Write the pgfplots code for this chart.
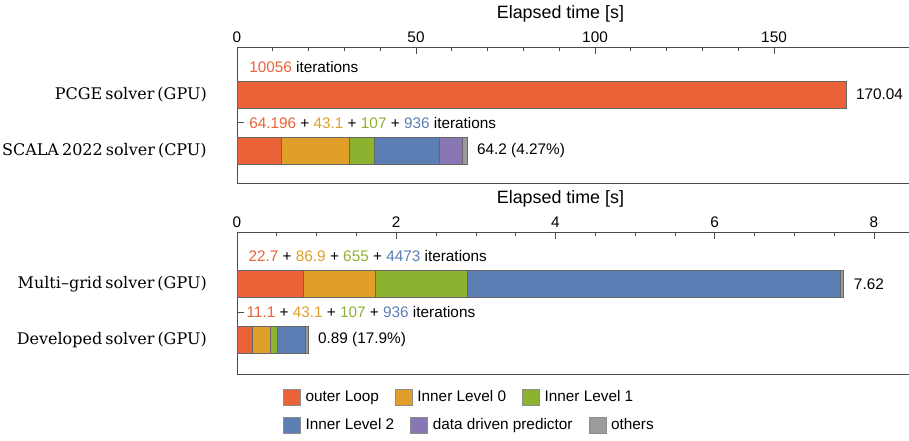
\documentclass[border=0pt]{standalone}
\usepackage{fontspec}
\usepackage{pgfplots}
\pgfplotsset{compat=1.18}
\newfontfamily\sans{Liberation Sans}
\newfontfamily\serifcat[Ligatures=TeX, WordSpace=0.6]{DejaVu Serif}
\definecolor{cOut}{HTML}{EA6338}
\definecolor{cI0}{HTML}{E09F29}
\definecolor{cI1}{HTML}{8DB22F}
\definecolor{cI2}{HTML}{5B7FB4}
\definecolor{cPr}{HTML}{8977B4}
\definecolor{cOt}{HTML}{9B9B9B}
\newcommand{\fs}{\sans\fontsize{11.5}{13}\selectfont}
\newcommand{\fc}{\serifcat\fontsize{12}{14}\selectfont}
\pgfplotsset{
 common/.style={
  scale only axis, width=504pt, xmin=0,
  xbar stacked, bar width=0.48,
  axis x line*=box, axis y line*=left,
  axis line style={-, black!70, line width=0.6pt},
  xtick pos=right, xticklabel pos=right, tick align=inside,
  major tick length=5.25pt, minor tick length=3pt,
  tick style={black!70, line width=0.5pt},
  ytick={1,1.5,2}, yticklabels={},
  ticklabel style={font=\fs},
  /pgf/number format/assume math mode=true,
  xlabel={Elapsed time [s]},
  xlabel style={font=\sans\fontsize{13.4}{15}\selectfont, xshift=-9.4pt},
  clip=false,
  legend columns=-1,
  legend image code/.code={\draw[##1] (0pt,-6pt) rectangle (12.75pt,6pt); \path (16.5pt,0pt);},
  legend style={draw=none, fill=none, inner sep=0pt, outer sep=0pt, font=\sans\fontsize{11.5}{13}\selectfont,
    nodes={inner sep=0pt}, /tikz/every even column/.append style={column sep=12pt}},
 },
 bO/.style={fill=cOut, draw=black!60, line width=0.4pt, forget plot},
 bA/.style={fill=cI0, draw=black!60, line width=0.4pt, forget plot},
 bB/.style={fill=cI1, draw=black!60, line width=0.4pt, forget plot},
 bC/.style={fill=cI2, draw=black!60, line width=0.4pt, forget plot},
 bD/.style={fill=cPr, draw=black!60, line width=0.4pt, forget plot},
 bE/.style={fill=cOt, draw=black!60, line width=0.4pt, forget plot},
}
\begin{document}
\begin{tikzpicture}
\useasboundingbox (0,0) rectangle (681.75pt,330pt);
% top axis
\begin{axis}[common, at={(177.75pt,192.75pt)}, anchor=south west,
  height=102pt, xmax=187.7, ymin=0.42, ymax=2.85,
  xtick={0,50,100,150}, minor x tick num=4,
  legend style={at={(rel axis cs:0.0685,-1.779)}, anchor=west}]
\addplot[bO] coordinates {(170.04,2) (12.3,1)};
\addplot[bA] coordinates {(0,2) (19.0,1)};
\addplot[bB] coordinates {(0,2) (7.0,1)};
\addplot[bC] coordinates {(0,2) (18.2,1)};
\addplot[bD] coordinates {(0,2) (6.3,1)};
\addplot[bE] coordinates {(0,2) (1.4,1)};
\addlegendimage{fill=cI2, draw=black!45}\addlegendentry{Inner Level 2}
\addlegendimage{fill=cPr, draw=black!45}\addlegendentry{data driven predictor}
\addlegendimage{fill=cOt, draw=black!45}\addlegendentry{others}
\node[anchor=west, font=\fs, inner sep=0pt] at (axis cs:0,2.5) [xshift=9pt] {\textcolor{cOut}{10056} iterations};
\node[anchor=west, font=\fs, inner sep=0pt] at (axis cs:0,1.5) [xshift=9pt] {\textcolor{cOut}{64.196} + \textcolor{cI0}{43.1} + \textcolor{cI1}{107} + \textcolor{cI2}{936} iterations};
\node[anchor=west, font=\fs, inner sep=0pt] at (axis cs:170.04,2) [xshift=7.5pt] {170.04};
\node[anchor=west, font=\fs, inner sep=0pt] at (axis cs:64.2,1) [xshift=7.5pt] {64.2 (4.27\%)};
\node[anchor=east, font=\fc, inner sep=0pt] at (axis cs:0,2) [xshift=-22.5pt] {PCGE solver (GPU)};
\node[anchor=east, font=\fc, inner sep=0pt] at (axis cs:0,1) [xshift=-22.5pt] {SCALA 2022 solver (CPU)};
\end{axis}
% bottom axis
\begin{axis}[common, at={(177.75pt,49.5pt)}, anchor=south west,
  height=106.5pt, xmax=8.44, ymin=0.393, ymax=2.93,
  xtick={0,2,4,6,8}, minor x tick num=3,
  legend style={at={(rel axis cs:0.0685,-0.162)}, anchor=west}]
\addplot[bO] coordinates {(0.83,2) (0.19,1)};
\addplot[bA] coordinates {(0.91,2) (0.225,1)};
\addplot[bB] coordinates {(1.15,2) (0.09,1)};
\addplot[bC] coordinates {(4.69,2) (0.35,1)};
\addplot[bD] coordinates {(0,2) (0.005,1)};
\addplot[bE] coordinates {(0.04,2) (0.03,1)};
\addlegendimage{fill=cOut, draw=black!45}\addlegendentry{outer Loop}
\addlegendimage{fill=cI0, draw=black!45}\addlegendentry{Inner Level 0}
\addlegendimage{fill=cI1, draw=black!45}\addlegendentry{Inner Level 1}
\node[anchor=west, font=\fs, inner sep=0pt] at (axis cs:0,2.5) [xshift=8.5pt] {\textcolor{cOut}{22.7} + \textcolor{cI0}{86.9} + \textcolor{cI1}{655} + \textcolor{cI2}{4473} iterations};
\node[anchor=west, font=\fs, inner sep=0pt] at (axis cs:0,1.5) [xshift=7pt] {\textcolor{cOut}{11.1} + \textcolor{cI0}{43.1} + \textcolor{cI1}{107} + \textcolor{cI2}{936} iterations};
\node[anchor=west, font=\fs, inner sep=0pt] at (axis cs:7.62,2) [xshift=7.5pt] {7.62};
\node[anchor=west, font=\fs, inner sep=0pt] at (axis cs:0.89,1) [xshift=7.5pt] {0.89 (17.9\%)};
\node[anchor=east, font=\fc, inner sep=0pt] at (axis cs:0,2) [xshift=-22.5pt] {Multi--grid solver (GPU)};
\node[anchor=east, font=\fc, inner sep=0pt] at (axis cs:0,1) [xshift=-22.5pt] {Developed solver (GPU)};
\end{axis}
\end{tikzpicture}
\end{document}
